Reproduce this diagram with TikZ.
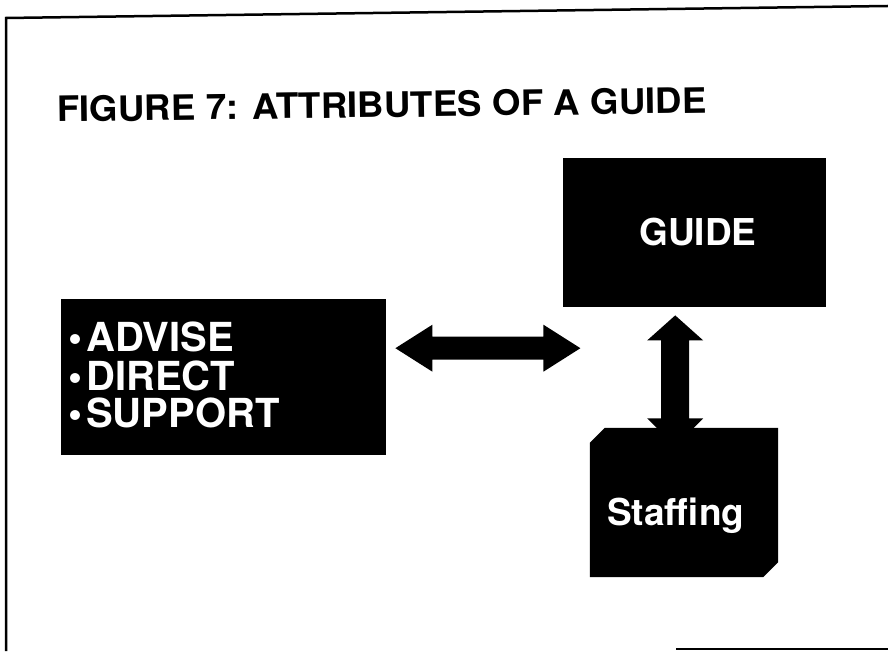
\documentclass[tikz,border=0pt]{standalone}
\usepackage{fontspec}
\setmainfont{TeX Gyre Heros}
\begin{document}
\begin{tikzpicture}[x=1pt,y=1pt,
  panel/.style={fill=black, draw=none, inner sep=0pt},
  label/.style={text=white, inner sep=0pt},
  listlabel/.style={label, anchor=base west, font=\bfseries\fontsize{40}{40}\selectfont},
  frameline/.style={line width=2.5pt, black},
  blockarrow/.style={fill=black},
]
\useasboundingbox (0,0) rectangle (888,651);
\fill[white] (0,0) rectangle (888,651);

% page frame
\draw[frameline] (6,0) -- (6,633) -- (888,645);
\draw[frameline] (676,2) -- (888,2);

% heading
\node[anchor=base west, inner sep=0pt, rotate=0.8,
      font=\bfseries\fontsize{35}{35}\selectfont] (title) at (57,529)
  {\scalebox{1.05}[1]{FIGURE 7: ATTRIBUTES OF A GUIDE}};

% GUIDE box
\node[panel, minimum width=263pt, minimum height=149pt, anchor=north west] (guide) at (563,493) {};
\node[label, font=\bfseries\fontsize{37}{37}\selectfont] (guidetext) at (698,418.5) {GUIDE};

% list box
\node[panel, minimum width=325pt, minimum height=156pt, anchor=north west] (list) at (61,352) {};
\node[listlabel] (adv) at (68,299) {\textbullet\hspace{4pt}ADVISE};
\node[listlabel] (dir) at (68,261) {\textbullet\hspace{4pt}DIRECT};
\node[listlabel] (sup) at (68,224) {\textbullet\hspace{4pt}SUPPORT};

% Staffing box with two cut corners
\node[inner sep=0pt, minimum width=188pt, minimum height=149pt] (staff) at (684,148.5) {};
\fill[black] ([xshift=15pt]staff.north west) -- (staff.north east) -- ([yshift=15pt]staff.south east)
  -- ([xshift=-15pt]staff.south east) -- (staff.south west) -- ([yshift=-15pt]staff.north west) -- cycle;
\node[label, anchor=base west, font=\bfseries\fontsize{37}{37}\selectfont] (stafftext) at (607,126) {Staffing};

% two-way arrow between list and GUIDE
\path (list.east) ++(9,29) coordinate (hs);
\fill[blockarrow] (hs) -- ++(37,23.5) -- ++(0,-12) -- ++(111,0) -- ++(0,12) -- ++(37,-23.5)
  -- ++(-37,-23.5) -- ++(0,12) -- ++(-111,0) -- ++(0,-12) -- cycle;

% two-way arrow between GUIDE and Staffing
\path (guide.south) ++(-19.5,-8) coordinate (vt);
\fill[blockarrow] (vt) -- ++(-28,-25) -- ++(14,0) -- ++(0,-78) -- ++(-14,0) -- ++(28,-28)
  -- ++(28,28) -- ++(-14,0) -- ++(0,78) -- ++(14,0) -- cycle;
\end{tikzpicture}
\end{document}
